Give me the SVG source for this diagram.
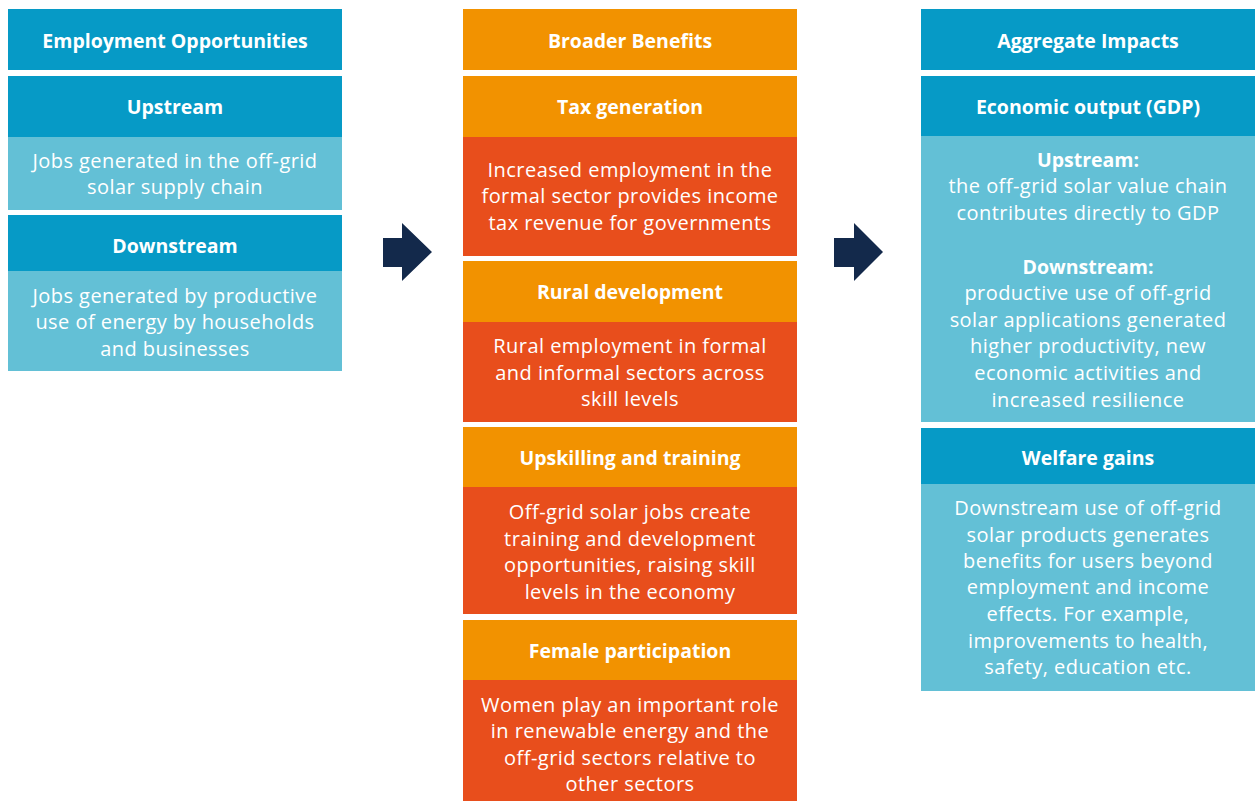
<svg xmlns="http://www.w3.org/2000/svg" width="1259" height="801" viewBox="0 0 1259 801">
<style>
.db{fill:#069ac6}.lb{fill:#63c0d6}.or{fill:#f29200}.rd{fill:#e84e1c}
text{font-family:"Open Sans",Lato,sans-serif;fill:#fff;text-anchor:middle}
.h{font-weight:bold;font-size:19.5px;letter-spacing:0px}
.b{font-weight:normal;font-size:20px;letter-spacing:0.45px}
.arrow{fill:#13294b}
</style>
<rect width="1259" height="801" fill="#fff"/>
<g id="col1">
<g id="employment-opportunities"><rect class="db" x="8" y="9" width="334" height="61"/><text class="h" x="175" y="48">Employment Opportunities</text></g>
<g id="upstream"><rect class="db" x="8" y="76" width="334" height="61"/><text class="h" x="175" y="114">Upstream</text>
<rect class="lb" x="8" y="137" width="334" height="73"/><text class="b" x="175" y="168">Jobs generated in the off-grid</text><text class="b" x="175" y="194">solar supply chain</text></g>
<g id="downstream"><rect class="db" x="8" y="215" width="334" height="56"/><text class="h" x="175" y="253">Downstream</text>
<rect class="lb" x="8" y="271" width="334" height="100"/><text class="b" x="175" y="303">Jobs generated by productive</text><text class="b" x="175" y="329">use of energy by households</text><text class="b" x="175" y="356">and businesses</text></g>
</g>
<g id="col2">
<g id="broader-benefits"><rect class="or" x="463" y="9" width="334" height="61"/><text class="h" x="630" y="48">Broader Benefits</text></g>
<g id="tax"><rect class="or" x="463" y="76" width="334" height="61"/><text class="h" x="630" y="114">Tax generation</text>
<rect class="rd" x="463" y="137" width="334" height="119"/><text class="b" x="630" y="177">Increased employment in the</text><text class="b" x="630" y="203">formal sector provides income</text><text class="b" x="630" y="230">tax revenue for governments</text></g>
<g id="rural"><rect class="or" x="463" y="261" width="334" height="61"/><text class="h" x="630" y="299">Rural development</text>
<rect class="rd" x="463" y="322" width="334" height="100"/><text class="b" x="630" y="353">Rural employment in formal</text><text class="b" x="630" y="380">and informal sectors across</text><text class="b" x="630" y="406">skill levels</text></g>
<g id="upskilling"><rect class="or" x="463" y="427" width="334" height="60"/><text class="h" x="630" y="465">Upskilling and training</text>
<rect class="rd" x="463" y="487" width="334" height="127"/><text class="b" x="630" y="519">Off-grid solar jobs create</text><text class="b" x="630" y="546">training and development</text><text class="b" x="630" y="572">opportunities, raising skill</text><text class="b" x="630" y="599">levels in the economy</text></g>
<g id="female"><rect class="or" x="463" y="620" width="334" height="60"/><text class="h" x="630" y="658">Female participation</text>
<rect class="rd" x="463" y="680" width="334" height="121"/><text class="b" x="630" y="712">Women play an important role</text><text class="b" x="630" y="738">in renewable energy and the</text><text class="b" x="630" y="765">off-grid sectors relative to</text><text class="b" x="630" y="791">other sectors</text></g>
</g>
<g id="col3">
<g id="aggregate-impacts"><rect class="db" x="921" y="9" width="334" height="61"/><text class="h" x="1088" y="48">Aggregate Impacts</text></g>
<g id="economic-output"><rect class="db" x="921" y="76" width="334" height="60"/><text class="h" x="1088" y="114">Economic output (GDP)</text>
<rect class="lb" x="921" y="136" width="334" height="286"/>
<text class="h" x="1088" y="167">Upstream:</text><text class="b" x="1088" y="193">the off-grid solar value chain</text><text class="b" x="1088" y="220">contributes directly to GDP</text>
<text class="h" x="1088" y="274">Downstream:</text><text class="b" x="1088" y="300">productive use of off-grid</text><text class="b" x="1088" y="327">solar applications generated</text><text class="b" x="1088" y="353">higher productivity, new</text><text class="b" x="1088" y="380">economic activities and</text><text class="b" x="1088" y="407">increased resilience</text></g>
<g id="welfare"><rect class="db" x="921" y="428" width="334" height="56"/><text class="h" x="1088" y="465">Welfare gains</text>
<rect class="lb" x="921" y="484" width="334" height="207"/><text class="b" x="1088" y="515">Downstream use of off-grid</text><text class="b" x="1088" y="542">solar products generates</text><text class="b" x="1088" y="568">benefits for users beyond</text><text class="b" x="1088" y="594">employment and income</text><text class="b" x="1088" y="621">effects. For example,</text><text class="b" x="1088" y="648">improvements to health,</text><text class="b" x="1088" y="674">safety, education etc.</text></g>
</g>
<g id="connectors">
<polygon class="arrow" points="383,238 402,238 402,223 432,252 402,281 402,267 383,267"/>
<polygon class="arrow" points="834,238 854,238 854,223 883,252 854,281 854,267 834,267"/>
</g>
</svg>
